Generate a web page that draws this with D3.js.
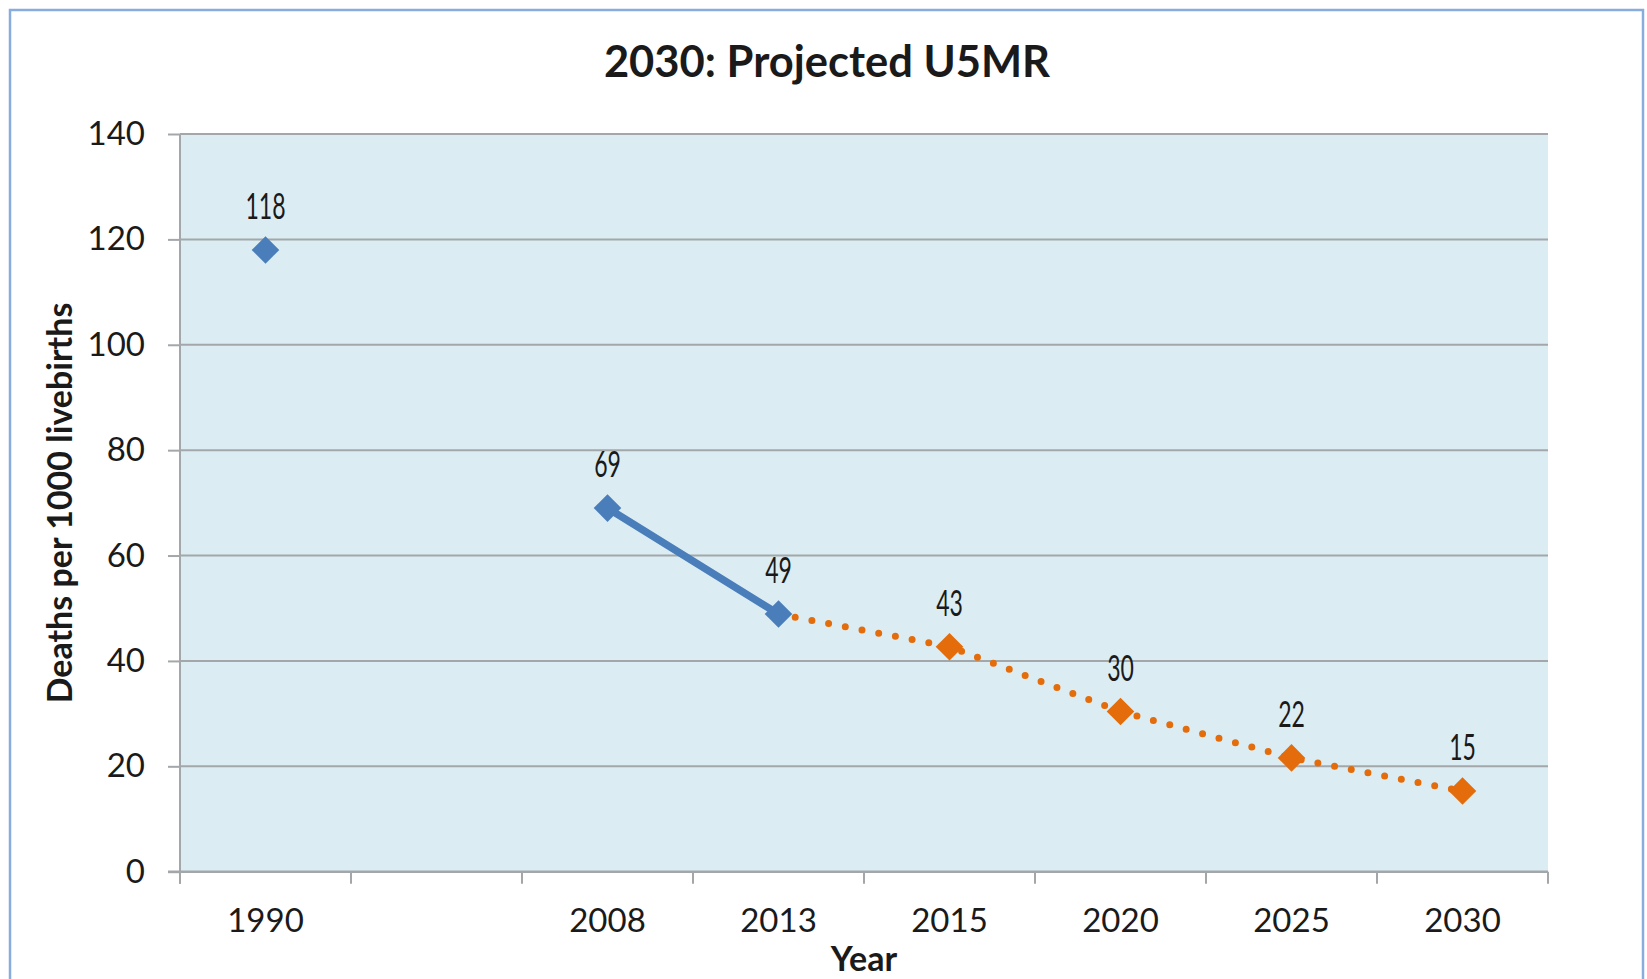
<!DOCTYPE html>
<html>
<head>
<meta charset="utf-8">
<script src="https://cdn.jsdelivr.net/npm/d3@7"></script>
<style>
  body { margin: 0; background: #fff; }
  svg { display: block; }
  text { font-family: Lato, "Open Sans", sans-serif; fill: #1a1a1a; }
</style>
</head>
<body>
<svg id="chart" width="1647" height="979"></svg>
<script>
// category slots on the x axis (one slot left empty after 1990)
var categories = ["1990", "", "2008", "2013", "2015", "2020", "2025", "2030"];

// measured series
var actualYears = ["1990", "2008", "2013"];
var actualValues = [118, 69, 48.9];
var projYears = ["2013", "2015", "2020", "2025", "2030"];
var projValues = [48.9, 42.7, 30.4, 21.6, 15.3];

var yTicks = [0, 20, 40, 60, 80, 100, 120, 140];

var TITLE = "2030: Projected U5MR";
var Y_TITLE = "Deaths per 1000 livebirths";
var X_TITLE = "Year";

var BLUE = "#4a7ebb";
var ORANGE = "#e46c0a";
var GRID = "#a3a7aa";

var plot = {left: 180, right: 1548, top: 134, bottom: 871.7};

var svg = d3.select("#chart");

// outer chart border
svg.append("rect")
	.attr("x", 10).attr("y", 10)
	.attr("width", 1633).attr("height", 1010)
	.attr("fill", "none")
	.attr("stroke", "#88acdc")
	.attr("stroke-width", 2.5);

var x = d3.scaleBand().domain(categories).range([plot.left, plot.right]).padding(0);
var y = d3.scaleLinear().domain([0, 140]).range([plot.bottom, plot.top]);
var cx = function(d) { return x(d) + x.bandwidth() / 2; };

svg.append("rect")
	.attr("x", plot.left).attr("y", plot.top)
	.attr("width", plot.right - plot.left)
	.attr("height", plot.bottom - plot.top)
	.attr("fill", "#dbedf3");

// gridlines
svg.append("g").selectAll("line")
	.data(yTicks.filter(function(t) { return t > 0; }))
	.enter().append("line")
	.attr("x1", plot.left).attr("x2", plot.right)
	.attr("y1", function(d) { return y(d); })
	.attr("y2", function(d) { return y(d); })
	.attr("stroke", GRID)
	.attr("stroke-width", 2);

// y axis
var yAxis = svg.append("g")
	.attr("transform", "translate(" + plot.left + ",0)")
	.call(d3.axisLeft(y).tickValues(yTicks).tickSize(12).tickPadding(23));
yAxis.select(".domain")
	.attr("d", "M0," + plot.top + "V" + (plot.bottom + 12))
	.attr("stroke", GRID).attr("stroke-width", 2);
yAxis.selectAll(".tick line").attr("stroke", GRID).attr("stroke-width", 2);
yAxis.selectAll(".tick text")
	.attr("font-family", "Lato, sans-serif")
	.attr("font-size", 33)
	.attr("fill", "#1a1a1a");

// x axis line + boundary ticks
svg.append("line")
	.attr("x1", plot.left - 12).attr("x2", plot.right)
	.attr("y1", plot.bottom).attr("y2", plot.bottom)
	.attr("stroke", GRID).attr("stroke-width", 2.5);

var bounds = categories.map(function(c) { return x(c); }).concat([plot.right]);
svg.append("g").selectAll("line")
	.data(bounds)
	.enter().append("line")
	.attr("x1", function(d) { return d; })
	.attr("x2", function(d) { return d; })
	.attr("y1", plot.bottom).attr("y2", plot.bottom + 12)
	.attr("stroke", GRID).attr("stroke-width", 2);

svg.append("g").selectAll("text")
	.data(categories.filter(function(c) { return c !== ""; }))
	.enter().append("text")
	.attr("x", cx)
	.attr("y", 932)
	.attr("text-anchor", "middle")
	.attr("font-size", 33)
	.text(function(d) { return d; });

// titles
svg.append("text")
	.attr("x", 827).attr("y", 77)
	.attr("text-anchor", "middle")
	.attr("font-size", 43.5)
	.attr("font-weight", "bold")
	.text(TITLE);

svg.append("text")
	.attr("x", (plot.left + plot.right) / 2).attr("y", 971)
	.attr("text-anchor", "middle")
	.attr("font-size", 34)
	.attr("font-weight", "bold")
	.text(X_TITLE);

svg.append("text")
	.attr("transform", "translate(72,503) rotate(-90)")
	.attr("text-anchor", "middle")
	.attr("font-size", 34)
	.attr("font-weight", "bold")
	.text(Y_TITLE);

// series
var proj = projYears.map(function(d, i) { return {cat: d, v: projValues[i]}; });
var actual = actualYears.map(function(d, i) { return {cat: d, v: actualValues[i]}; });

var line = d3.line()
	.x(function(d) { return cx(d.cat); })
	.y(function(d) { return y(d.v); });

var diamond = d3.symbol().type(d3.symbolSquare).size(19.5 * 19.5);

svg.append("path")
	.datum(proj)
	.attr("d", line)
	.attr("fill", "none")
	.attr("stroke", ORANGE)
	.attr("stroke-width", 7)
	.attr("stroke-linecap", "round")
	.attr("stroke-dasharray", "0 17");

svg.append("g").selectAll("path")
	.data(proj.slice(1))
	.enter().append("path")
	.attr("d", diamond)
	.attr("transform", function(d) { return "translate(" + cx(d.cat) + "," + y(d.v) + ") rotate(45)"; })
	.attr("fill", ORANGE);

// blue solid segment only between consecutive slots (gap after 1990)
svg.append("path")
	.datum(actual.slice(1))
	.attr("d", line)
	.attr("fill", "none")
	.attr("stroke", BLUE)
	.attr("stroke-width", 7.5)
	.attr("stroke-linecap", "round");

svg.append("g").selectAll("path")
	.data(actual)
	.enter().append("path")
	.attr("d", diamond)
	.attr("transform", function(d) { return "translate(" + cx(d.cat) + "," + y(d.v) + ") rotate(45)"; })
	.attr("fill", BLUE);

// data labels (condensed look)
var labels = actual.concat(proj.slice(1));
svg.append("g").selectAll("text")
	.data(labels)
	.enter().append("text")
	.attr("transform", function(d) { return "translate(" + cx(d.cat) + "," + (y(d.v) - 31) + ") scale(0.64,1)"; })
	.attr("text-anchor", "middle")
	.attr("font-family", "Roboto, sans-serif")
	.attr("font-size", 36)
	.attr("fill", "#1e1e1e")
	.text(function(d) { return d3.format(".0f")(d.v); });
</script>
</body>
</html>
